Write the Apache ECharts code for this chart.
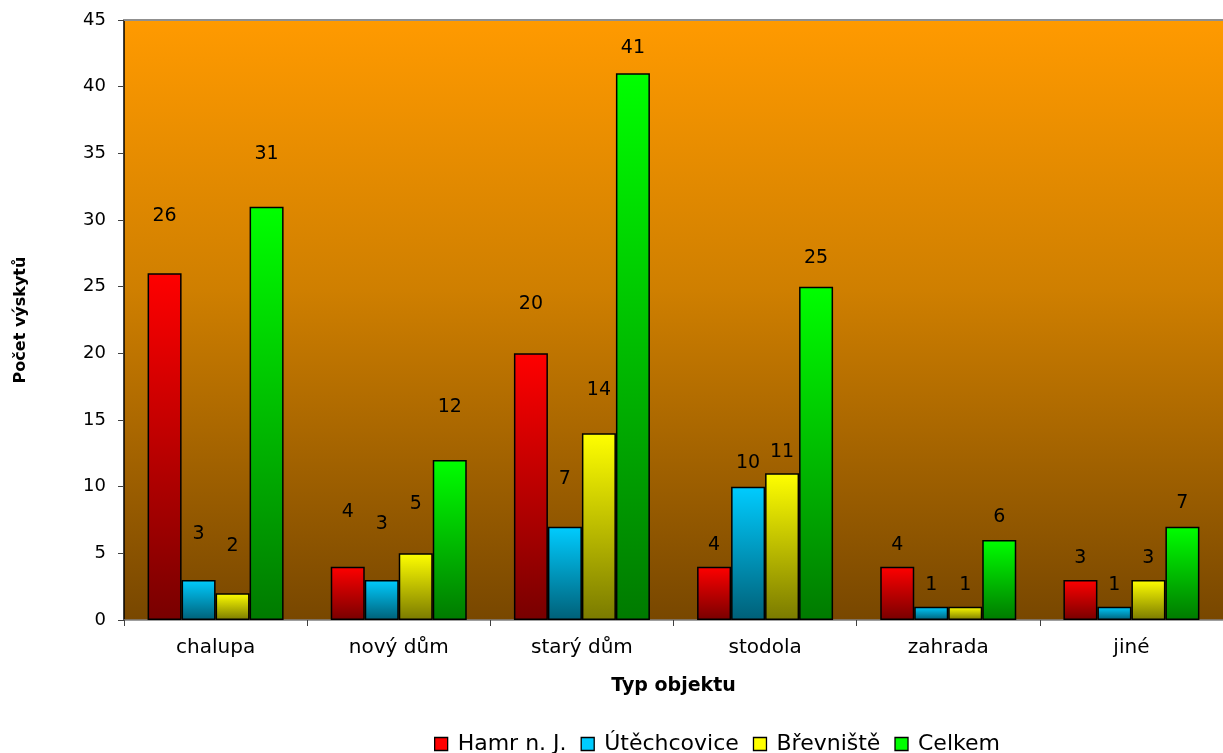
<!DOCTYPE html>
<html>
<head>
<meta charset="utf-8">
<script src="https://cdn.jsdelivr.net/npm/echarts@6/dist/echarts.min.js"></script>
<style>
  html, body { margin: 0; padding: 0; background: #fff; }
  #chart { width: 1223px; height: 753px; }
</style>
</head>
<body>
<div id="chart"></div>
<script>
// Categories and counts per locality
const categories = ['chalupa', 'nový dům', 'starý dům', 'stodola', 'zahrada', 'jiné'];
const seriesNames = ['Hamr n. J.', 'Útěchcovice', 'Břevniště', 'Celkem'];
const hamr = [26, 4, 20, 4, 4, 3];
const utechcovice = [3, 3, 7, 10, 1, 1];
const brevniste = [2, 5, 14, 11, 1, 3];
const celkem = [31, 12, 41, 25, 6, 7];
const yTicks = { min: 0, max: 45, interval: 5 };

// Styling: gradient stops (top, bottom) for each series
const barColors = [
  ['#FF0000', '#780000'],
  ['#00CCFF', '#006078'],
  ['#FFFF00', '#7A7A00'],
  ['#00FF00', '#007A00']
];
// Styling: vertical gap in px between bar top and its value label
const labelLift = [
  [48, 45, 40, 12, 12, 12],
  [36, 46, 38, 14, 12, 12],
  [38, 40, 34, 12, 12, 12],
  [43, 43, 16, 19, 13, 14]
];

const font = 'DejaVu Sans, Verdana, sans-serif';
const values = [hamr, utechcovice, brevniste, celkem];

const series = values.map((vals, si) => ({
  name: seriesNames[si],
  type: 'bar',
  barWidth: 34,
  barGap: '0%',
  data: vals.map((v, ci) => ({
    value: v,
    label: { distance: labelLift[si][ci] }
  })),
  itemStyle: {
    color: new echarts.graphic.LinearGradient(0, 0, 0, 1, [
      { offset: 0, color: barColors[si][0] },
      { offset: 1, color: barColors[si][1] }
    ]),
    borderColor: '#000',
    borderWidth: 1.5
  },
  label: {
    show: true,
    position: 'top',
    color: '#000',
    fontFamily: font,
    fontSize: 19
  },
  emphasis: { disabled: true }
}));

const chart = echarts.init(document.getElementById('chart'), null, { renderer: 'canvas' });
chart.setOption({
  animation: false,
  backgroundColor: '#fff',
  grid: {
    left: 124, right: 0, top: 20, bottom: 133,
    show: true,
    borderWidth: 0,
    backgroundColor: new echarts.graphic.LinearGradient(0, 0, 0, 1, [
      { offset: 0, color: '#FF9A00' },
      { offset: 0.45, color: '#CF7F00' },
      { offset: 1, color: '#784700' }
    ])
  },
  legend: {
    top: 728,
    left: 429,
    itemWidth: 13,
    itemHeight: 13,
    itemGap: 14,
    icon: 'rect',
    textStyle: { fontFamily: font, fontSize: 22, color: '#000', padding: [0, 0, 0, 5] },
    data: seriesNames.map((n, i) => ({
      name: n,
      itemStyle: { color: barColors[i][0], borderColor: '#000', borderWidth: 1.3 }
    }))
  },
  xAxis: [{
    type: 'category',
    data: categories,
    name: 'Typ objektu',
    nameLocation: 'middle',
    nameGap: 57,
    nameTextStyle: { fontFamily: font, fontSize: 19, fontWeight: 'bold', color: '#000' },
    axisLine: { show: true, lineStyle: { color: '#808080', width: 1.5 } },
    axisTick: { show: true, length: 6, lineStyle: { color: '#404040' } },
    axisLabel: { fontFamily: font, fontSize: 20, color: '#000', margin: 18 },
    splitLine: { show: false }
  }, {
    type: 'category',
    position: 'top',
    data: categories,
    axisLine: { show: true, lineStyle: { color: '#909090', width: 2 } },
    axisTick: { show: false },
    axisLabel: { show: false }
  }],
  yAxis: {
    type: 'value',
    min: yTicks.min,
    max: yTicks.max,
    interval: yTicks.interval,
    name: 'Počet výskytů',
    nameLocation: 'middle',
    nameGap: 95,
    nameRotate: 90,
    nameTextStyle: { fontFamily: font, fontSize: 16, fontWeight: 'bold', color: '#000' },
    axisLine: { show: true, lineStyle: { color: '#000', width: 1.5 } },
    axisTick: { show: true, length: 6, lineStyle: { color: '#404040' } },
    axisLabel: { fontFamily: font, fontSize: 18, color: '#000', margin: 18 },
    splitLine: { show: false }
  },
  series: series
});
</script>
</body>
</html>
